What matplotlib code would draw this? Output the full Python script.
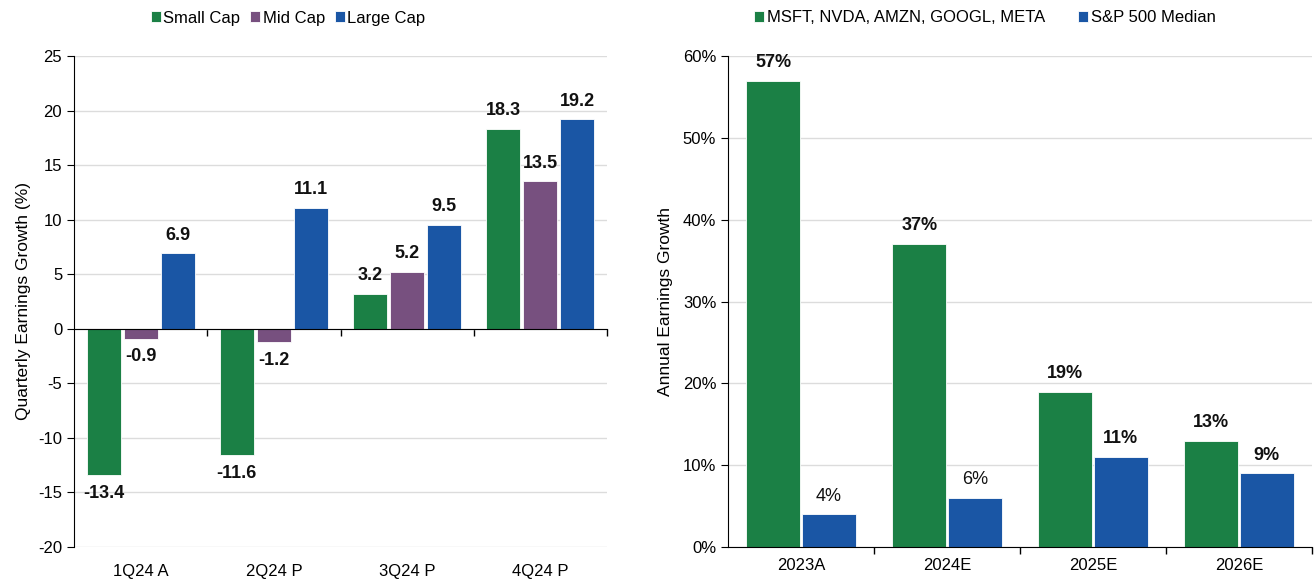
import numpy as np
import matplotlib.pyplot as plt
from matplotlib.ticker import FixedLocator, PercentFormatter

plt.rcParams['font.family'] = ['Liberation Sans', 'DejaVu Sans']
plt.rcParams['axes.unicode_minus'] = False

# -------------------- DATA --------------------
quarters = ["1Q24 A", "2Q24 P", "3Q24 P", "4Q24 P"]
small_cap = [-13.4, -11.6, 3.2, 18.3]
mid_cap = [-0.9, -1.2, 5.2, 13.5]
large_cap = [6.9, 11.1, 9.5, 19.2]

years = ["2023A", "2024E", "2025E", "2026E"]
mega_caps = [57, 37, 19, 13]
sp500_median = [4, 6, 11, 9]

GREEN = "#1b8045"
PURPLE = "#77507f"
BLUE = "#1a56a5"
GRID = "#dcdcdc"

fig = plt.figure(figsize=(13.14, 5.79), dpi=100)

# -------------------- LEFT CHART --------------------
ax1 = fig.add_axes([74 / 1314, 32 / 579, 533 / 1314, 491 / 579])

x = np.arange(len(quarters))
w = 0.256
step = 0.278
series = [("Small Cap", small_cap, GREEN),
          ("Mid Cap", mid_cap, PURPLE),
          ("Large Cap", large_cap, BLUE)]

for i, (name, vals, col) in enumerate(series):
    bars = ax1.bar(x + (i - 1) * step, vals, w, color=col, label=name,
                   edgecolor="white", linewidth=0.6, zorder=3)
    for b, v in zip(bars, vals):
        off = 7 if v >= 0 else -7
        ax1.annotate(f"{v:.1f}", (b.get_x() + b.get_width() / 2, v),
                     xytext=(0, off), textcoords="offset points",
                     ha="center", va="bottom" if v >= 0 else "top",
                     fontsize=13, fontweight="bold", color="#111111")

ax1.set_xlim(-0.5, 3.5)
ax1.set_ylim(-20, 25)
ax1.set_yticks(range(-20, 30, 5))
ax1.yaxis.grid(True, color=GRID, linewidth=1, zorder=0)
ax1.set_axisbelow(True)

for s in ["top", "right"]:
    ax1.spines[s].set_visible(False)
ax1.spines["bottom"].set_position(("data", 0))
ax1.spines["bottom"].set_zorder(4)

ax1.set_xticks([])
ax1.xaxis.set_minor_locator(FixedLocator([0.5, 1.5, 2.5, 3.5]))
ax1.tick_params(axis="x", which="minor", direction="out", length=5, width=1)
ax1.tick_params(axis="y", direction="out", length=5, labelsize=12)

for xi, q in zip(x, quarters):
    ax1.text(xi, -0.035, q, transform=ax1.get_xaxis_transform(),
             ha="center", va="top", fontsize=12)

ax1.set_ylabel("Quarterly Earnings Growth (%)", fontsize=12.5, labelpad=5)

ax1.legend(loc="center", bbox_to_anchor=(288 / 1314, 1 - 18 / 579),
           bbox_transform=fig.transFigure, ncol=3, frameon=False,
           fontsize=12, handlelength=0.6, handleheight=0.6,
           handletextpad=0.15, columnspacing=0.6)

# -------------------- RIGHT CHART --------------------
ax2 = fig.add_axes([728 / 1314, 32 / 579, 584 / 1314, 491 / 579])

x2 = np.arange(len(years))
w2 = 0.37
pairs = [("MSFT, NVDA, AMZN, GOOGL, META", mega_caps, GREEN, -1,
          ["bold"] * 4),
         ("S&P 500 Median", sp500_median, BLUE, 1,
          ["normal", "normal", "bold", "bold"])]

for name, vals, col, side, weights in pairs:
    bars = ax2.bar(x2 + side * 0.19, vals, w2, color=col, label=name,
                   edgecolor="white", linewidth=0.6, zorder=3)
    for b, v, fw in zip(bars, vals, weights):
        ax2.annotate(f"{v}%", (b.get_x() + b.get_width() / 2, v),
                     xytext=(0, 7), textcoords="offset points",
                     ha="center", va="bottom",
                     fontsize=13, fontweight=fw, color="#111111")

ax2.set_xlim(-0.5, 3.5)
ax2.set_ylim(0, 60)
ax2.set_yticks(range(0, 70, 10))
ax2.yaxis.set_major_formatter(PercentFormatter(decimals=0))
ax2.yaxis.grid(True, color=GRID, linewidth=1, zorder=0)
ax2.set_axisbelow(True)

for s in ["top", "right"]:
    ax2.spines[s].set_visible(False)
ax2.spines["bottom"].set_zorder(4)

ax2.set_xticks(x2)
ax2.set_xticklabels(years, fontsize=12)
ax2.tick_params(axis="x", which="major", length=0, pad=8)
ax2.xaxis.set_minor_locator(FixedLocator([0.5, 1.5, 2.5, 3.5]))
ax2.tick_params(axis="x", which="minor", direction="out", length=5, width=1)
ax2.tick_params(axis="y", direction="out", length=5, labelsize=12)

ax2.set_ylabel("Annual Earnings Growth", fontsize=12.5, labelpad=7)

ax2.legend(loc="center", bbox_to_anchor=(985 / 1314, 1 - 18 / 579),
           bbox_transform=fig.transFigure, ncol=2, frameon=False,
           fontsize=12, handlelength=0.6, handleheight=0.6,
           handletextpad=0.15, columnspacing=2.0)

plt.savefig("out.png", dpi=100)
